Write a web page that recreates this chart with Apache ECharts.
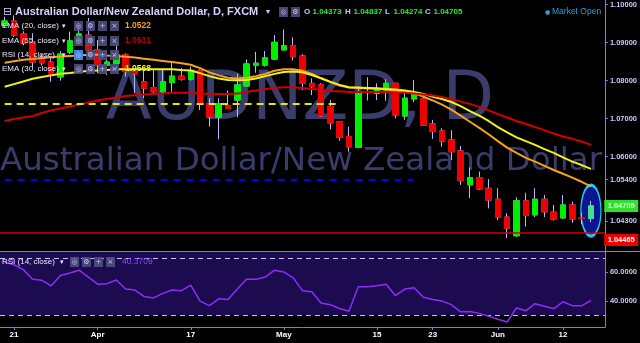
<!DOCTYPE html>
<html><head><meta charset="utf-8">
<script src="https://cdn.jsdelivr.net/npm/echarts@6/dist/echarts.min.js"></script>
<style>html,body{margin:0;padding:0;background:#000;}#c{width:640px;height:343px;}</style>
</head><body><div id="c"></div>
<script>
// ---------- data ----------
const dates = [
'2018-03-20','2018-03-21','2018-03-22','2018-03-23','2018-03-26','2018-03-27','2018-03-28','2018-03-29','2018-03-30','2018-04-02',
'2018-04-03','2018-04-04','2018-04-05','2018-04-06','2018-04-09','2018-04-10','2018-04-11','2018-04-12','2018-04-13','2018-04-16',
'2018-04-17','2018-04-18','2018-04-19','2018-04-20','2018-04-23','2018-04-24','2018-04-25','2018-04-26','2018-04-27','2018-04-30',
'2018-05-01','2018-05-02','2018-05-03','2018-05-04','2018-05-07','2018-05-08','2018-05-09','2018-05-10','2018-05-11','2018-05-14',
'2018-05-15','2018-05-16','2018-05-17','2018-05-18','2018-05-21','2018-05-22','2018-05-23','2018-05-24','2018-05-25','2018-05-28',
'2018-05-29','2018-05-30','2018-05-31','2018-06-01','2018-06-04','2018-06-05','2018-06-06','2018-06-07','2018-06-08','2018-06-11',
'2018-06-12','2018-06-13','2018-06-14','2018-06-15','2018-06-18'];
const tickIndex = [1,10,20,30,40,46,53,60];
const tickText = ['21','Apr','17','May','15','23','Jun','12'];

const open = [1.0945,1.0957,1.0923,1.0902,1.0862,1.0849,1.0810,1.0875,1.0903,1.0920,
 1.0881,1.0841,1.0846,1.0868,1.0824,1.0797,1.0782,1.0771,1.0795,1.0812,
 1.0804,1.0826,1.0740,1.0704,1.0734,1.0749,1.0786,1.0841,1.0841,1.0857,
 1.0881,1.0892,1.0865,1.0793,1.0789,1.0732,1.0692,1.0653,1.0625,1.0779,
 1.0767,1.0776,1.0793,1.0707,1.0752,1.0752,1.0686,1.0668,1.0644,1.0615,
 1.0526,1.0545,1.0517,1.0488,1.0441,1.0392,1.0484,1.0447,1.0488,1.0454,
 1.0439,1.0473,1.0438,1.04373];
const close = [1.0957,1.0920,1.0899,1.0849,1.0847,1.0815,1.0870,1.0905,1.0923,1.0881,
 1.0841,1.0849,1.0868,1.0824,1.0818,1.0780,1.0771,1.0797,1.0812,1.0804,
 1.0826,1.0740,1.0705,1.0739,1.0727,1.0789,1.0844,1.0846,1.0860,1.0901,
 1.0892,1.0863,1.0793,1.0784,1.0707,1.0689,1.0651,1.0626,1.0771,1.0781,
 1.0776,1.0793,1.0710,1.0754,1.0767,1.0683,1.0666,1.0641,1.0613,1.0537,
 1.0545,1.0515,1.0486,1.0441,1.0412,1.0484,1.0445,1.0488,1.0455,1.0436,
 1.0473,1.0436,1.04373,1.04705];
const low = [1.0940,1.0915,1.0893,1.0836,1.0840,1.0797,1.0800,1.0870,1.0898,1.0873,
 1.0820,1.0815,1.0833,1.0811,1.0768,1.0754,1.0766,1.0765,1.0771,1.0800,
 1.0800,1.0723,1.0679,1.0646,1.0725,1.0704,1.0784,1.0821,1.0837,1.0855,
 1.0880,1.0853,1.0776,1.0762,1.0705,1.0672,1.0642,1.0613,1.0623,1.0748,
 1.0749,1.0747,1.0701,1.0697,1.0744,1.0681,1.0647,1.0626,1.0591,1.0526,
 1.0491,1.0512,1.0464,1.0433,1.0386,1.0389,1.0416,1.0441,1.0441,1.0432,
 1.0436,1.0426,1.0422,1.04274];
const high = [1.0968,1.0972,1.0930,1.0925,1.0870,1.0862,1.0878,1.0929,1.0953,1.0965,
 1.0907,1.0881,1.0903,1.0872,1.0828,1.0828,1.0828,1.0830,1.0847,1.0833,
 1.0837,1.0830,1.0754,1.0754,1.0774,1.0819,1.0856,1.0876,1.0878,1.0920,
 1.0935,1.0914,1.0870,1.0806,1.0793,1.0749,1.0694,1.0679,1.0784,1.0809,
 1.0793,1.0804,1.0795,1.0776,1.0802,1.0762,1.0697,1.0675,1.0670,1.0628,
 1.0572,1.0561,1.0541,1.0517,1.0451,1.0493,1.0505,1.0517,1.0499,1.0473,
 1.0499,1.0482,1.0452,1.04837];

const ema20 = [1.0847,1.0851,1.0855,1.0857,1.0860,1.0862,1.0864,1.0865,1.0866,1.0868,
 1.0868,1.0866,1.0865,1.0863,1.0861,1.0858,1.0855,1.0852,1.0849,1.0846,
 1.0842,1.0833,1.0822,1.0814,1.0808,1.0806,1.0808,1.0812,1.0818,1.0826,
 1.0830,1.0830,1.0826,1.0818,1.0807,1.0797,1.0787,1.0782,1.0781,1.0780,
 1.0778,1.0777,1.0774,1.0770,1.0767,1.0758,1.0748,1.0737,1.0724,1.0708,
 1.0692,1.0676,1.0659,1.0641,1.0624,1.0610,1.0597,1.0587,1.0576,1.0565,
 1.0555,1.0545,1.0534,1.0522];
const ema30 = [1.0784,1.0791,1.0798,1.0805,1.0810,1.0814,1.0818,1.0820,1.0823,1.0826,
 1.0827,1.0828,1.0830,1.0830,1.0830,1.0830,1.0830,1.0830,1.0830,1.0828,
 1.0827,1.0820,1.0812,1.0806,1.0802,1.0801,1.0802,1.0806,1.0812,1.0818,
 1.0823,1.0824,1.0822,1.0815,1.0806,1.0797,1.0789,1.0783,1.0782,1.0781,
 1.0780,1.0778,1.0777,1.0774,1.0770,1.0765,1.0758,1.0752,1.0744,1.0733,
 1.0720,1.0708,1.0694,1.0678,1.0664,1.0651,1.0641,1.0631,1.0620,1.0610,
 1.0598,1.0587,1.0578,1.0568];
const ema55 = [1.0694,1.0699,1.0703,1.0707,1.0715,1.0722,1.0727,1.0732,1.0737,1.0743,
 1.0748,1.0752,1.0756,1.0760,1.0762,1.0764,1.0765,1.0766,1.0768,1.0768,
 1.0768,1.0766,1.0765,1.0765,1.0765,1.0766,1.0770,1.0774,1.0778,1.0781,
 1.0783,1.0783,1.0781,1.0778,1.0776,1.0773,1.0772,1.0770,1.0770,1.0770,
 1.0770,1.0770,1.0769,1.0768,1.0766,1.0764,1.0761,1.0757,1.0752,1.0745,
 1.0739,1.0731,1.0722,1.0712,1.0703,1.0694,1.0686,1.0678,1.0670,1.0661,
 1.0653,1.0647,1.0640,1.0631];
const rsi = [67.0,65.2,61.8,55.0,54.3,50.5,57.7,59.5,61.4,56.6,
 51.6,52.0,54.5,48.2,47.5,43.0,42.0,45.2,47.5,47.1,
 50.9,39.8,36.6,41.4,40.9,48.2,55.0,55.0,56.6,61.4,
 60.2,56.1,47.1,46.4,38.4,37.3,34.6,32.7,49.8,49.8,
 50.5,51.6,43.6,48.2,49.1,42.5,40.9,39.8,37.3,32.3,
 32.5,31.2,29.3,27.1,25.2,35.0,33.0,38.0,36.2,34.6,
 39.3,36.6,36.5,40.3709];

const priceTicks = [1.10,1.09,1.08,1.07,1.06,1.054,1.043];
const rsiTicks = [60,40];
const rsiBands = [70,30];
const yellowLevel = 1.0739, yellowEnd = 36;
const blueLevel = 1.054, blueEnd = 44;
const redLevel = 1.04465;
const lastClose = close[close.length-1];

// ---------- helpers ----------
const UI = '"Liberation Sans", Arial, sans-serif';
const LAV = '#c8c8ff';
const AXIS = '#7b7bef';
const els = [];
function txt(x, y, text, font, color, align, z) {
  els.push({type:'text', x:x, y:y, z:z||100, silent:true,
    style:{text:text, fill:color, font:font, align:align||'left', verticalAlign:'middle',
           textAlign:align||'left', textVerticalAlign:'middle'}});
}
function box(x, y, glyph, bg) {
  els.push({type:'rect', x:x, y:y-5, z:100, silent:true, shape:{width:9,height:10}, style:{fill:bg||'rgba(78,78,125,0.9)'}});
  txt(x+4.5, y, glyph, '7px "DejaVu Sans"', LAV, 'center', 101);
}
// watermark
txt(300, 102, 'AUDNZD, D', '67px "DejaVu Sans"', '#3a3d6c', 'center', -10);
txt(301, 162, 'Australian Dollar/New Zealand Dollar', '32.5px "DejaVu Sans"', '#3a3d6c', 'center', -10);
// header
txt(3, 12, '⊟', '11px "DejaVu Sans"', LAV, 'left');
txt(15, 12, 'Australian Dollar/New Zealand Dollar, D, FXCM', 'bold 11px ' + UI, '#d4d4ff', 'left');
txt(266, 12, '▾', '8px "DejaVu Sans"', LAV, 'left');
box(279, 12, '◎'); box(291, 12, '⚙');
const ohlcLbl = ['O','H','L','C'];
const ohlcVal = [open[63], high[63], low[63], close[63]];
const ohlcX = [304, 345, 385, 425];
for (let i = 0; i < 4; i++) {
  txt(ohlcX[i], 12, ohlcLbl[i], 'bold 8px ' + UI, LAV, 'left');
  txt(ohlcX[i] + 8.5, 12, ohlcVal[i].toFixed(5), 'bold 8px ' + UI, '#22ee22', 'left');
}
txt(545, 12, '●', '6px "DejaVu Sans"', '#3a9ad9', 'left');
txt(552, 12, 'Market Open', '8.5px ' + UI, '#3a9ad9', 'left');
// legend rows
const rows = [
  {y:26, t:'EMA (20, close)', v:ema20[63].toFixed(4), c:'#f7a21b'},
  {y:41, t:'EMA (55, close)', v:ema55[63].toFixed(4), c:'#c00000'},
  {y:55, t:'RSI (14, close)', v:'', c:'#fff', hi:true},
  {y:69, t:'EMA (30, close)', v:ema30[63].toFixed(4), c:'#f2f21a'}
];
rows.forEach(r => {
  txt(2, r.y, r.t, '8px ' + UI, '#e6e6ff', 'left');
  txt(62, r.y, '▾', '7px "DejaVu Sans"', '#e6e6ff', 'left');
  box(74, r.y, '◎', r.hi ? '#3a86e8' : null); box(86, r.y, '⚙'); box(98, r.y, '+'); box(110, r.y, '×');
  if (r.v) txt(125, r.y, r.v, 'bold 8.5px ' + UI, r.c, 'left');
});
// rsi legend
txt(2, 262, 'RSI (14, close)', '8px ' + UI, '#e6e6ff', 'left');
txt(60, 262, '▾', '7px "DejaVu Sans"', '#e6e6ff', 'left');
box(70, 262, '◎'); box(82, 262, '⚙'); box(94, 262, '+'); box(106, 262, '×');
txt(122, 262, rsi[63].toFixed(4), '8.5px ' + UI, '#8e4dff', 'left');
// separator
els.push({type:'line', z:50, silent:true, shape:{x1:0, y1:251.5, x2:640, y2:251.5}, style:{stroke:AXIS, lineWidth:1}});

// ---------- series data ----------
const wickData = open.map((o,i) => [o, close[i], low[i], high[i]]);
const bodyData = open.map((o,i) => {
  const v = [o, close[i], Math.min(o, close[i]), Math.max(o, close[i])];
  if (i === open.length - 1) return {value:v, itemStyle:{color:'#40e08c', borderColor:'#40e08c'}};
  return v;
});

const isTick = (idx) => tickIndex.indexOf(idx) >= 0;

const chart = echarts.init(document.getElementById('c'), null, {renderer:'canvas'});
chart.setOption({
  backgroundColor:'#000',
  animation:false,
  textStyle:{fontFamily:UI},
  grid:[
    {left:-4, width:611, top:0, height:251},
    {left:-4, width:611, top:252, height:75}
  ],
  xAxis:[
    {type:'category', gridIndex:0, data:dates, boundaryGap:true,
     axisLine:{show:false}, axisTick:{show:false}, axisLabel:{show:false}, splitLine:{show:false}},
    {type:'category', gridIndex:1, data:dates, boundaryGap:true,
     axisLine:{show:true, lineStyle:{color:AXIS, width:1}},
     axisTick:{show:true, alignWithLabel:true, interval:(i)=>isTick(i), length:3, lineStyle:{color:AXIS}},
     axisLabel:{show:true, interval:(i)=>isTick(i), formatter:(v,i)=>tickText[tickIndex.indexOf(i)],
       color:'#ffffff', fontSize:8, fontWeight:'bold', margin:4},
     splitLine:{show:false}}
  ],
  yAxis:[
    {type:'value', gridIndex:0, position:'right', min:1.035184, max:1.101237, scale:true,
     splitLine:{show:false},
     axisLine:{show:true, lineStyle:{color:AXIS, width:1}},
     axisTick:{show:true, customValues:priceTicks, length:3, lineStyle:{color:AXIS}},
     axisLabel:{show:true, customValues:priceTicks, formatter:(v)=>v.toFixed(5), color:LAV, fontSize:7.5, fontWeight:'bold', margin:5}},
    {type:'value', gridIndex:1, position:'right', min:21.68, max:74.13,
     splitLine:{show:false},
     axisLine:{show:true, lineStyle:{color:AXIS, width:1}},
     axisTick:{show:true, customValues:rsiTicks, length:3, lineStyle:{color:AXIS}},
     axisLabel:{show:true, customValues:rsiTicks, formatter:(v)=>v.toFixed(4), color:LAV, fontSize:7.5, fontWeight:'bold', margin:5}}
  ],
  graphic:{elements:els},
  series:[
    {type:'candlestick', name:'wick', xAxisIndex:0, yAxisIndex:0, data:wickData, barWidth:6, z:3,
     itemStyle:{color:'rgba(0,0,0,0)', color0:'rgba(0,0,0,0)', borderColor:'#b8b8ff', borderColor0:'#b8b8ff', borderWidth:1}},
    {type:'candlestick', name:'body', xAxisIndex:0, yAxisIndex:0, data:bodyData, barWidth:6, z:4,
     itemStyle:{color:'#00ee00', color0:'#ee0000', borderColor:'#00ee00', borderColor0:'#ee0000', borderWidth:1},
     markLine:{silent:true, symbol:['none','none'], z:6, label:{show:false},
       data:[
         [{coord:[dates[0], yellowLevel]}, {coord:[dates[yellowEnd], yellowLevel], lineStyle:{color:'#e8e800', width:2, type:[7,5]}}],
         [{coord:[dates[0], blueLevel]}, {coord:[dates[blueEnd], blueLevel], lineStyle:{color:'#0000ff', width:2, type:[7,6]}}],
         {yAxis:redLevel, lineStyle:{color:'#d40000', width:1.5, type:'solid'}}
       ]},
     markPoint:{silent:true, z:20,
       data:[
         {coord:[dates[64], lastClose], value:lastClose, symbol:'rect', symbolSize:[34,12], symbolOffset:[21,0],
          itemStyle:{color:'#2fe02f', borderWidth:0},
          label:{show:true, position:'inside', formatter:(p)=>p.value.toFixed(5), color:'#e0ffe0', fontSize:7.5, fontWeight:'bold'}},
         {coord:[dates[64], redLevel], value:redLevel, symbol:'rect', symbolSize:[34,12], symbolOffset:[21,25],
          itemStyle:{color:'#ee0000', borderWidth:0},
          label:{show:true, position:'inside', formatter:(p)=>p.value.toFixed(5), color:'#ffffff', fontSize:7.5, fontWeight:'bold'}}
       ]}},
    {type:'line', name:'EMA20', xAxisIndex:0, yAxisIndex:0, data:ema20, symbol:'none', z:5,
     lineStyle:{color:'#f7a21b', width:2},
     markPoint:{silent:true, z:1,
       data:[{coord:[dates[63], 1.0458], symbol:'circle', symbolSize:[20,51],
         itemStyle:{color:'#0b1690', borderColor:'#1ec8ff', borderWidth:2}, label:{show:false}}]}},
    {type:'line', name:'EMA30', xAxisIndex:0, yAxisIndex:0, data:ema30, symbol:'none', z:5,
     lineStyle:{color:'#f2f21a', width:2}},
    {type:'line', name:'EMA55', xAxisIndex:0, yAxisIndex:0, data:ema55, symbol:'none', z:5,
     lineStyle:{color:'#d00000', width:2}},
    {type:'line', name:'RSI', xAxisIndex:1, yAxisIndex:1, data:rsi, symbol:'none', z:5,
     lineStyle:{color:'#8c2cff', width:1.5},
     markLine:{silent:true, symbol:['none','none'], label:{show:false},
       lineStyle:{color:'#c4c4ff', width:1, type:[5,4]},
       data:rsiBands.map(v=>({yAxis:v}))},
     markArea:{silent:true, itemStyle:{color:'#1c0b4e'},
       data:[[{yAxis:rsiBands[1]}, {yAxis:74.13}]]}}
  ]
});
</script>
</body></html>
